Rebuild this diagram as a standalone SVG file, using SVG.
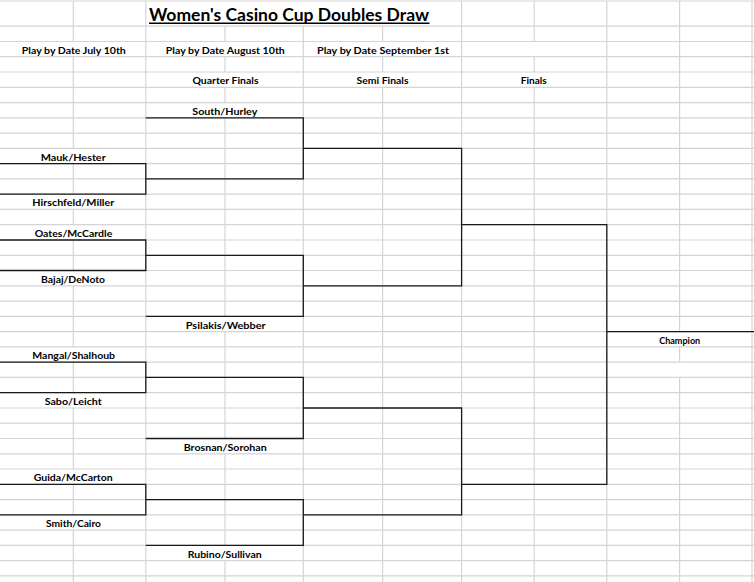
<svg xmlns="http://www.w3.org/2000/svg" width="754" height="582" viewBox="0 0 754 582">
<style>
.g{stroke:#d4d4d4;stroke-width:1.2;fill:none}
.b{stroke:#1a1a1a;stroke-width:1.3;fill:none}
.t{font-family:Lato,"Liberation Sans",sans-serif;font-weight:bold;font-size:9.7px;text-anchor:middle;fill:#000}
.ti{font-family:Lato,"Liberation Sans",sans-serif;font-weight:bold;font-size:16.5px;fill:#000}
</style>
<rect width="754" height="582" fill="#fff"/>
<g id="grid">
<path class="g" d="M0,1H754M0,26.2H754M0,41.5H754M0,56.7H754M0,72H754M0,87.3H754M0,102.6H754M0,117.8H754M0,133.1H754M0,148.4H754M0,163.6H754M0,178.9H754M0,194.2H754M0,209.4H754M0,224.7H754M0,240H754M0,255.3H754M0,270.5H754M0,285.8H754M0,301.1H754M0,316.3H754M0,331.6H754M0,346.9H754M0,362.1H754M0,377.4H754M0,392.7H754M0,408H754M0,423.2H754M0,438.5H754M0,453.8H754M0,469H754M0,484.3H754M0,499.6H754M0,514.8H754M0,530.1H754M0,545.4H754M0,560.7H754M0,575.9H754"/>
<path class="g" d="M73.3,1V41.5M73.3,56.7V148.4M73.3,163.6V194.2M73.3,209.4V224.7M73.3,240V270.5M73.3,285.8V346.9M73.3,362.1V392.7M73.3,408V469M73.3,484.3V514.8M73.3,530.1V582"/>
<path class="g" d="M145.8,1V582"/>
<path class="g" d="M225,26.2V41.5M225,56.7V72M225,87.3V102.6M225,117.8V316.3M225,331.6V438.5M225,453.8V545.4M225,560.7V582"/>
<path class="g" d="M303.3,26.2V582"/>
<path class="g" d="M382.6,26.2V41.5M382.6,56.7V72M382.6,87.3V582"/>
<path class="g" d="M461.6,1V582"/>
<path class="g" d="M534.2,1V41.5M534.2,56.7V72M534.2,87.3V582"/>
<path class="g" d="M606.8,1V582"/>
<path class="g" d="M679.6,1V331.6M679.6,346.9V362.1M679.6,377.4V582"/>
<path class="g" d="M752,1V582"/>
</g>
<g id="connectors">
<path class="b" d="M0,163.6H145.8V194.2H0"/>
<path class="b" d="M145.8,117.8H303.3V178.9H145.8"/>
<path class="b" d="M303.3,148.4H461.6V285.8H303.3"/>
<path class="b" d="M0,240H145.8V270.5H0"/>
<path class="b" d="M145.8,255.3H303.3V316.3H145.8"/>
<path class="b" d="M461.6,224.7H606.8V484.3H461.6"/>
<path class="b" d="M606.8,331.6H754"/>
<path class="b" d="M0,362.1H145.8V392.7H0"/>
<path class="b" d="M145.8,377.4H303.3V438.5H145.8"/>
<path class="b" d="M303.3,408H461.6V514.8H303.3"/>
<path class="b" d="M0,484.3H145.8V514.8H0"/>
<path class="b" d="M145.8,499.6H303.3V545.4H145.8"/>
</g>
<g id="title">
<text class="ti" x="149" y="20.7" textLength="280" lengthAdjust="spacingAndGlyphs">Women's Casino Cup Doubles Draw</text>
<line x1="149" y1="23.2" x2="429.5" y2="23.2" stroke="#000" stroke-width="1.4"/>
</g>
<g id="headers">
<text class="t" x="73.8" y="53.7" textLength="104" lengthAdjust="spacingAndGlyphs">Play by Date July 10th</text>
<text class="t" x="225.3" y="53.7" textLength="119" lengthAdjust="spacingAndGlyphs">Play by Date August 10th</text>
<text class="t" x="383" y="53.7" textLength="132" lengthAdjust="spacingAndGlyphs">Play by Date September 1st</text>
<text class="t" x="225.5" y="84.2" textLength="66" lengthAdjust="spacingAndGlyphs">Quarter Finals</text>
<text class="t" x="382.5" y="84.2" textLength="52" lengthAdjust="spacingAndGlyphs">Semi Finals</text>
<text class="t" x="533.8" y="84.2" textLength="26" lengthAdjust="spacingAndGlyphs">Finals</text>
</g>
<g id="node-south-hurley"><text class="t" x="224.8" y="114.8" textLength="65" lengthAdjust="spacingAndGlyphs">South/Hurley</text></g>
<g id="node-mauk-hester"><text class="t" x="73.2" y="160.6" textLength="65" lengthAdjust="spacingAndGlyphs">Mauk/Hester</text></g>
<g id="node-hirschfeld-miller"><text class="t" x="73.3" y="206.4" textLength="82" lengthAdjust="spacingAndGlyphs">Hirschfeld/Miller</text></g>
<g id="node-oates-mccardle"><text class="t" x="73.5" y="236.9" textLength="77.6" lengthAdjust="spacingAndGlyphs">Oates/McCardle</text></g>
<g id="node-bajaj-denoto"><text class="t" x="73" y="282.7" textLength="64" lengthAdjust="spacingAndGlyphs">Bajaj/DeNoto</text></g>
<g id="node-psilakis-webber"><text class="t" x="225.7" y="328.5" textLength="80" lengthAdjust="spacingAndGlyphs">Psilakis/Webber</text></g>
<g id="node-champion"><text class="t" x="679.7" y="343.6" textLength="41" lengthAdjust="spacingAndGlyphs" style="font-size:8.7px">Champion</text></g>
<g id="node-mangal-shalhoub"><text class="t" x="73.7" y="359.1" textLength="82.7" lengthAdjust="spacingAndGlyphs">Mangal/Shalhoub</text></g>
<g id="node-sabo-leicht"><text class="t" x="73.2" y="404.9" textLength="57" lengthAdjust="spacingAndGlyphs">Sabo/Leicht</text></g>
<g id="node-brosnan-sorohan"><text class="t" x="225.2" y="450.7" textLength="83" lengthAdjust="spacingAndGlyphs">Brosnan/Sorohan</text></g>
<g id="node-guida-mccarton"><text class="t" x="73.2" y="481.2" textLength="79" lengthAdjust="spacingAndGlyphs">Guida/McCarton</text></g>
<g id="node-smith-cairo"><text class="t" x="73.5" y="527" textLength="55" lengthAdjust="spacingAndGlyphs">Smith/Cairo</text></g>
<g id="node-rubino-sullivan"><text class="t" x="224.7" y="557.6" textLength="74" lengthAdjust="spacingAndGlyphs">Rubino/Sullivan</text></g>
</svg>
